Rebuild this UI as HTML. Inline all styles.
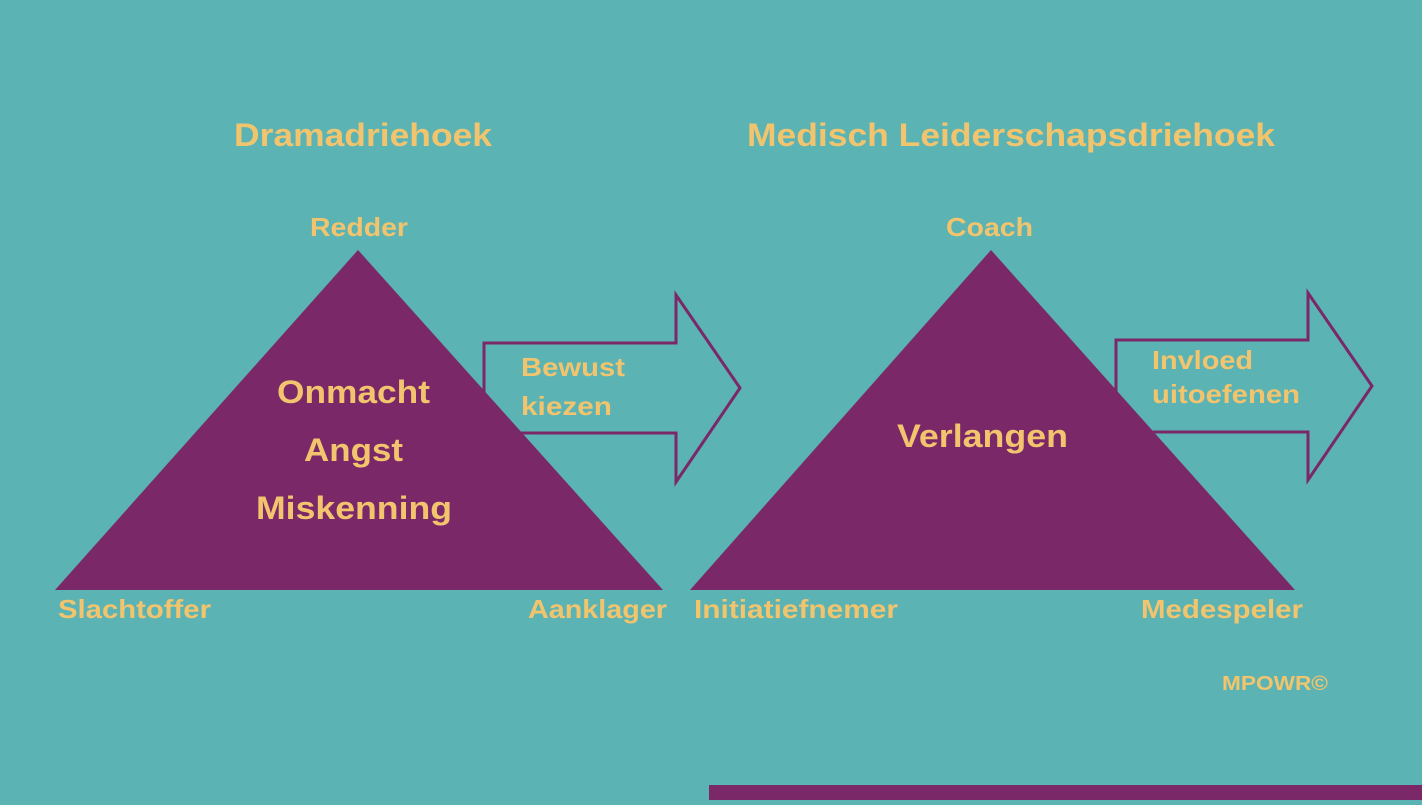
<!DOCTYPE html>
<html><head><meta charset="utf-8"><style>
html,body{margin:0;padding:0;}
body{width:1422px;height:800px;background:#5bb3b4;overflow:hidden;}
svg text{font-family:"Liberation Sans",sans-serif;font-weight:bold;fill:#f2c46e;}
</style></head><body>
<svg width="1422" height="800" viewBox="0 0 1422 800">
<rect width="1422" height="800" fill="#5bb3b4"/>
<polygon points="484,343 676,343 676,295 740,388 676,482 676,433 484,433" fill="#5bb3b4" stroke="#7b2868" stroke-width="3"/>
<polygon points="1116,340 1308,340 1308,293 1372,386 1308,480 1308,432 1116,432" fill="#5bb3b4" stroke="#7b2868" stroke-width="3"/>
<polygon points="358,250 663,590 55,590" fill="#7b2868"/>
<polygon points="991,250 1295,590 690,590" fill="#7b2868"/>
<rect x="709" y="785" width="713" height="15" fill="#7b2868"/>
<text x="234" y="146" font-size="32" textLength="258" lengthAdjust="spacingAndGlyphs">Dramadriehoek</text>
<text x="747" y="146" font-size="32" textLength="528" lengthAdjust="spacingAndGlyphs">Medisch Leiderschapsdriehoek</text>
<text x="310" y="236" font-size="26" textLength="98" lengthAdjust="spacingAndGlyphs">Redder</text>
<text x="946" y="236" font-size="26" textLength="87" lengthAdjust="spacingAndGlyphs">Coach</text>
<text x="277" y="403" font-size="32" textLength="153" lengthAdjust="spacingAndGlyphs">Onmacht</text>
<text x="304" y="461" font-size="32" textLength="99" lengthAdjust="spacingAndGlyphs">Angst</text>
<text x="256" y="519" font-size="32" textLength="196" lengthAdjust="spacingAndGlyphs">Miskenning</text>
<text x="897" y="447" font-size="32" textLength="171" lengthAdjust="spacingAndGlyphs">Verlangen</text>
<text x="521" y="376" font-size="26" textLength="104" lengthAdjust="spacingAndGlyphs">Bewust</text>
<text x="521" y="415" font-size="26" textLength="91" lengthAdjust="spacingAndGlyphs">kiezen</text>
<text x="1152" y="369" font-size="26" textLength="101" lengthAdjust="spacingAndGlyphs">Invloed</text>
<text x="1152" y="403" font-size="26" textLength="148" lengthAdjust="spacingAndGlyphs">uitoefenen</text>
<text x="58" y="618" font-size="26" textLength="153" lengthAdjust="spacingAndGlyphs">Slachtoffer</text>
<text x="528" y="618" font-size="26" textLength="139" lengthAdjust="spacingAndGlyphs">Aanklager</text>
<text x="694" y="618" font-size="26" textLength="204" lengthAdjust="spacingAndGlyphs">Initiatiefnemer</text>
<text x="1141" y="618" font-size="26" textLength="162" lengthAdjust="spacingAndGlyphs">Medespeler</text>
<text x="1222" y="690" font-size="20" textLength="106" lengthAdjust="spacingAndGlyphs">MPOWR©</text>
</svg>
</body></html>
